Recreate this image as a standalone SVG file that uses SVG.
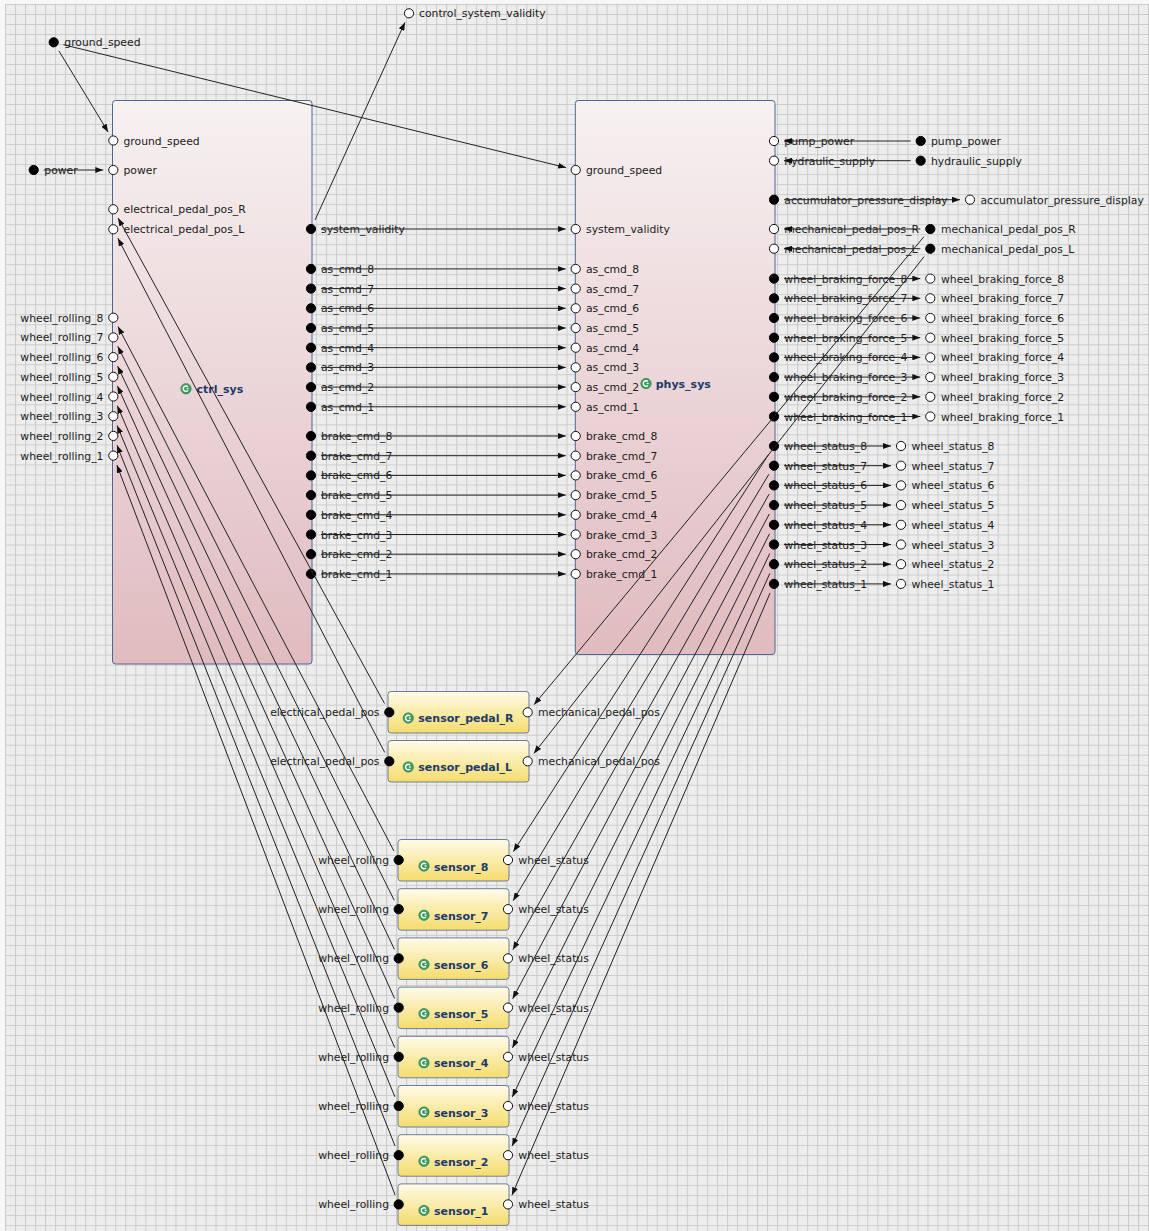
<svg xmlns="http://www.w3.org/2000/svg" width="1149" height="1231" viewBox="0 0 1149 1231">
  <defs>
    <pattern id="grid" patternUnits="userSpaceOnUse" x="5" y="4" width="10.027" height="10.01">
      <rect width="10.027" height="10.01" fill="#ededed"/>
      <path d="M0.5 0 V10.01 M0 0.5 H10.027" stroke="#cbcbcb" stroke-width="1" fill="none"/>
    </pattern>
    <linearGradient id="pinkFill" x1="0" y1="0" x2="0" y2="1">
      <stop offset="0" stop-color="#f7f1f1"/>
      <stop offset="1" stop-color="#e0bbc0"/>
    </linearGradient>
    <linearGradient id="yellowFill" x1="0" y1="0" x2="0" y2="1">
      <stop offset="0" stop-color="#fffbe9"/>
      <stop offset="1" stop-color="#f5dc6c"/>
    </linearGradient>
    <marker id="arrow" markerUnits="userSpaceOnUse" markerWidth="8" markerHeight="6" refX="8" refY="3" orient="auto">
      <path d="M0,0 L8,3 L0,6 z" fill="#111"/>
    </marker>
    <g id="icon">
      <circle r="5.2" fill="#3f9d62" stroke="#2c7a48" stroke-width="0.6"/>
      <path d="M1.9,-1.9 A2.7,2.7 0 1 0 1.9,1.9" fill="none" stroke="#fff" stroke-width="1.4"/>
      <path d="M0.6,0 H2.6" stroke="#fff" stroke-width="1.2"/>
    </g>
  </defs>
  <style>
    .lbl { font-family: "DejaVu Sans", "Liberation Sans", sans-serif; font-size: 10.8px; fill: #1b1b1b; }
    .end { text-anchor: end; }
    .title { font-family: "DejaVu Sans", "Liberation Sans", sans-serif; font-size: 11px; font-weight: bold; fill: #1d3a6b; }
    .sys { fill: url(#pinkFill); stroke: #4d6790; stroke-width: 1; }
    .sen { fill: url(#yellowFill); stroke: #6b7f9b; stroke-width: 1; }
    .in { fill: #fff; stroke: #111; stroke-width: 1; }
    .out { fill: #000; stroke: #000; stroke-width: 1; }
    .wire { stroke: #222; stroke-width: 1; fill: none; }
    .arr { marker-end: url(#arrow); }
  </style>

  <!-- canvas -->
  <rect width="1149" height="1231" fill="#f7f7f7"/>
  <rect x="5" y="4" width="1144" height="1227" fill="url(#grid)"/>

  <!-- top-level inputs / outputs -->
  <g id="ext_ground_speed">
    <circle class="out" cx="53.7" cy="42.3" r="4.6"/>
    <text class="lbl" x="64.3" y="46.3">ground_speed</text>
  </g>
  <g id="ext_power">
    <circle class="out" cx="33.7" cy="170" r="4.6"/>
    <text class="lbl" x="44.3" y="174">power</text>
  </g>
  <g id="ext_control_system_validity">
    <circle class="in" cx="409" cy="13.3" r="4.6"/>
    <text class="lbl" x="419" y="17.3">control_system_validity</text>
  </g>
  <g id="ext_pump_power">
    <circle class="out" cx="920.7" cy="141" r="4.6"/>
    <text class="lbl" x="931" y="145">pump_power</text>
  </g>
  <g id="ext_hydraulic_supply">
    <circle class="out" cx="920.7" cy="160.7" r="4.6"/>
    <text class="lbl" x="931" y="164.7">hydraulic_supply</text>
  </g>
  <g id="ext_accumulator_pressure_display">
    <circle class="in" cx="970" cy="199.7" r="4.6"/>
    <text class="lbl" x="980.5" y="203.7">accumulator_pressure_display</text>
  </g>
  <g id="ext_mechanical_pedal_pos_R">
    <circle class="out" cx="930.3" cy="229" r="4.6"/>
    <text class="lbl" x="941" y="233">mechanical_pedal_pos_R</text>
  </g>
  <g id="ext_mechanical_pedal_pos_L">
    <circle class="out" cx="930.3" cy="248.7" r="4.6"/>
    <text class="lbl" x="941" y="252.7">mechanical_pedal_pos_L</text>
  </g>
  <g id="ext_wheel_braking_force">
    <circle class="in" cx="930.3" cy="278.6" r="4.6"/><text class="lbl" x="941" y="282.6">wheel_braking_force_8</text>
    <circle class="in" cx="930.3" cy="298.3" r="4.6"/><text class="lbl" x="941" y="302.3">wheel_braking_force_7</text>
    <circle class="in" cx="930.3" cy="318" r="4.6"/><text class="lbl" x="941" y="322">wheel_braking_force_6</text>
    <circle class="in" cx="930.3" cy="337.7" r="4.6"/><text class="lbl" x="941" y="341.7">wheel_braking_force_5</text>
    <circle class="in" cx="930.3" cy="357.4" r="4.6"/><text class="lbl" x="941" y="361.4">wheel_braking_force_4</text>
    <circle class="in" cx="930.3" cy="377.1" r="4.6"/><text class="lbl" x="941" y="381.1">wheel_braking_force_3</text>
    <circle class="in" cx="930.3" cy="396.8" r="4.6"/><text class="lbl" x="941" y="400.8">wheel_braking_force_2</text>
    <circle class="in" cx="930.3" cy="416.5" r="4.6"/><text class="lbl" x="941" y="420.5">wheel_braking_force_1</text>
  </g>
  <g id="ext_wheel_status">
    <circle class="in" cx="901" cy="446" r="4.6"/><text class="lbl" x="911.5" y="450">wheel_status_8</text>
    <circle class="in" cx="901" cy="465.7" r="4.6"/><text class="lbl" x="911.5" y="469.7">wheel_status_7</text>
    <circle class="in" cx="901" cy="485.4" r="4.6"/><text class="lbl" x="911.5" y="489.4">wheel_status_6</text>
    <circle class="in" cx="901" cy="505.1" r="4.6"/><text class="lbl" x="911.5" y="509.1">wheel_status_5</text>
    <circle class="in" cx="901" cy="524.8" r="4.6"/><text class="lbl" x="911.5" y="528.8">wheel_status_4</text>
    <circle class="in" cx="901" cy="544.5" r="4.6"/><text class="lbl" x="911.5" y="548.5">wheel_status_3</text>
    <circle class="in" cx="901" cy="564.2" r="4.6"/><text class="lbl" x="911.5" y="568.2">wheel_status_2</text>
    <circle class="in" cx="901" cy="583.9" r="4.6"/><text class="lbl" x="911.5" y="587.9">wheel_status_1</text>
  </g>

  <!-- control system block -->
  <g id="ctrl_sys">
    <rect class="sys" x="112.5" y="100.5" width="199.5" height="563.5" rx="3"/>
    <use href="#icon" x="186" y="388.7"/>
    <text class="title" x="196.5" y="393">ctrl_sys</text>
    <circle class="in" cx="113.3" cy="140.5" r="4.6"/><text class="lbl" x="123.5" y="144.5">ground_speed</text>
    <circle class="in" cx="113.3" cy="170" r="4.6"/><text class="lbl" x="123.5" y="174">power</text>
    <circle class="in" cx="113.3" cy="209.3" r="4.6"/><text class="lbl" x="123.5" y="213.3">electrical_pedal_pos_R</text>
    <circle class="in" cx="113.3" cy="229.3" r="4.6"/><text class="lbl" x="123.5" y="233.3">electrical_pedal_pos_L</text>
    <circle class="in" cx="113.3" cy="317.7" r="4.6"/><text class="lbl end" x="103.5" y="321.7">wheel_rolling_8</text>
    <circle class="in" cx="113.3" cy="337.4" r="4.6"/><text class="lbl end" x="103.5" y="341.4">wheel_rolling_7</text>
    <circle class="in" cx="113.3" cy="357.1" r="4.6"/><text class="lbl end" x="103.5" y="361.1">wheel_rolling_6</text>
    <circle class="in" cx="113.3" cy="376.8" r="4.6"/><text class="lbl end" x="103.5" y="380.8">wheel_rolling_5</text>
    <circle class="in" cx="113.3" cy="396.5" r="4.6"/><text class="lbl end" x="103.5" y="400.5">wheel_rolling_4</text>
    <circle class="in" cx="113.3" cy="416.2" r="4.6"/><text class="lbl end" x="103.5" y="420.2">wheel_rolling_3</text>
    <circle class="in" cx="113.3" cy="435.9" r="4.6"/><text class="lbl end" x="103.5" y="439.9">wheel_rolling_2</text>
    <circle class="in" cx="113.3" cy="455.6" r="4.6"/><text class="lbl end" x="103.5" y="459.6">wheel_rolling_1</text>
    <circle class="out" cx="311" cy="229" r="4.6"/><text class="lbl" x="321" y="233">system_validity</text>
    <circle class="out" cx="311" cy="268.9" r="4.6"/><text class="lbl" x="321" y="272.9">as_cmd_8</text>
    <circle class="out" cx="311" cy="288.6" r="4.6"/><text class="lbl" x="321" y="292.6">as_cmd_7</text>
    <circle class="out" cx="311" cy="308.3" r="4.6"/><text class="lbl" x="321" y="312.3">as_cmd_6</text>
    <circle class="out" cx="311" cy="328" r="4.6"/><text class="lbl" x="321" y="332">as_cmd_5</text>
    <circle class="out" cx="311" cy="347.7" r="4.6"/><text class="lbl" x="321" y="351.7">as_cmd_4</text>
    <circle class="out" cx="311" cy="367.4" r="4.6"/><text class="lbl" x="321" y="371.4">as_cmd_3</text>
    <circle class="out" cx="311" cy="387.1" r="4.6"/><text class="lbl" x="321" y="391.1">as_cmd_2</text>
    <circle class="out" cx="311" cy="406.8" r="4.6"/><text class="lbl" x="321" y="410.8">as_cmd_1</text>
    <circle class="out" cx="311" cy="436" r="4.6"/><text class="lbl" x="321" y="440">brake_cmd_8</text>
    <circle class="out" cx="311" cy="455.7" r="4.6"/><text class="lbl" x="321" y="459.7">brake_cmd_7</text>
    <circle class="out" cx="311" cy="475.4" r="4.6"/><text class="lbl" x="321" y="479.4">brake_cmd_6</text>
    <circle class="out" cx="311" cy="495.1" r="4.6"/><text class="lbl" x="321" y="499.1">brake_cmd_5</text>
    <circle class="out" cx="311" cy="514.8" r="4.6"/><text class="lbl" x="321" y="518.8">brake_cmd_4</text>
    <circle class="out" cx="311" cy="534.5" r="4.6"/><text class="lbl" x="321" y="538.5">brake_cmd_3</text>
    <circle class="out" cx="311" cy="554.2" r="4.6"/><text class="lbl" x="321" y="558.2">brake_cmd_2</text>
    <circle class="out" cx="311" cy="573.9" r="4.6"/><text class="lbl" x="321" y="577.9">brake_cmd_1</text>
  </g>

  <!-- physical system block -->
  <g id="phys_sys">
    <rect class="sys" x="575.3" y="100.5" width="199.7" height="554" rx="3"/>
    <use href="#icon" x="646" y="383.5"/>
    <text class="title" x="655.7" y="388">phys_sys</text>
    <circle class="in" cx="575.7" cy="170" r="4.6"/><text class="lbl" x="586" y="174">ground_speed</text>
    <circle class="in" cx="575.7" cy="229" r="4.6"/><text class="lbl" x="586" y="233">system_validity</text>
    <circle class="in" cx="575.7" cy="268.9" r="4.6"/><text class="lbl" x="586" y="272.9">as_cmd_8</text>
    <circle class="in" cx="575.7" cy="288.6" r="4.6"/><text class="lbl" x="586" y="292.6">as_cmd_7</text>
    <circle class="in" cx="575.7" cy="308.3" r="4.6"/><text class="lbl" x="586" y="312.3">as_cmd_6</text>
    <circle class="in" cx="575.7" cy="328" r="4.6"/><text class="lbl" x="586" y="332">as_cmd_5</text>
    <circle class="in" cx="575.7" cy="347.7" r="4.6"/><text class="lbl" x="586" y="351.7">as_cmd_4</text>
    <circle class="in" cx="575.7" cy="367.4" r="4.6"/><text class="lbl" x="586" y="371.4">as_cmd_3</text>
    <circle class="in" cx="575.7" cy="387.1" r="4.6"/><text class="lbl" x="586" y="391.1">as_cmd_2</text>
    <circle class="in" cx="575.7" cy="406.8" r="4.6"/><text class="lbl" x="586" y="410.8">as_cmd_1</text>
    <circle class="in" cx="575.7" cy="436" r="4.6"/><text class="lbl" x="586" y="440">brake_cmd_8</text>
    <circle class="in" cx="575.7" cy="455.7" r="4.6"/><text class="lbl" x="586" y="459.7">brake_cmd_7</text>
    <circle class="in" cx="575.7" cy="475.4" r="4.6"/><text class="lbl" x="586" y="479.4">brake_cmd_6</text>
    <circle class="in" cx="575.7" cy="495.1" r="4.6"/><text class="lbl" x="586" y="499.1">brake_cmd_5</text>
    <circle class="in" cx="575.7" cy="514.8" r="4.6"/><text class="lbl" x="586" y="518.8">brake_cmd_4</text>
    <circle class="in" cx="575.7" cy="534.5" r="4.6"/><text class="lbl" x="586" y="538.5">brake_cmd_3</text>
    <circle class="in" cx="575.7" cy="554.2" r="4.6"/><text class="lbl" x="586" y="558.2">brake_cmd_2</text>
    <circle class="in" cx="575.7" cy="573.9" r="4.6"/><text class="lbl" x="586" y="577.9">brake_cmd_1</text>
    <circle class="in" cx="774" cy="141" r="4.6"/><text class="lbl" x="784.3" y="145">pump_power</text>
    <circle class="in" cx="774" cy="160.7" r="4.6"/><text class="lbl" x="784.3" y="164.7">hydraulic_supply</text>
    <circle class="out" cx="774" cy="199.7" r="4.6"/><text class="lbl" x="784.3" y="203.7">accumulator_pressure_display</text>
    <circle class="in" cx="774" cy="229" r="4.6"/><text class="lbl" x="784.3" y="233">mechanical_pedal_pos_R</text>
    <circle class="in" cx="774" cy="248.7" r="4.6"/><text class="lbl" x="784.3" y="252.7">mechanical_pedal_pos_L</text>
    <circle class="out" cx="774" cy="278.6" r="4.6"/><text class="lbl" x="784.3" y="282.6">wheel_braking_force_8</text>
    <circle class="out" cx="774" cy="298.3" r="4.6"/><text class="lbl" x="784.3" y="302.3">wheel_braking_force_7</text>
    <circle class="out" cx="774" cy="318" r="4.6"/><text class="lbl" x="784.3" y="322">wheel_braking_force_6</text>
    <circle class="out" cx="774" cy="337.7" r="4.6"/><text class="lbl" x="784.3" y="341.7">wheel_braking_force_5</text>
    <circle class="out" cx="774" cy="357.4" r="4.6"/><text class="lbl" x="784.3" y="361.4">wheel_braking_force_4</text>
    <circle class="out" cx="774" cy="377.1" r="4.6"/><text class="lbl" x="784.3" y="381.1">wheel_braking_force_3</text>
    <circle class="out" cx="774" cy="396.8" r="4.6"/><text class="lbl" x="784.3" y="400.8">wheel_braking_force_2</text>
    <circle class="out" cx="774" cy="416.5" r="4.6"/><text class="lbl" x="784.3" y="420.5">wheel_braking_force_1</text>
    <circle class="out" cx="774" cy="446" r="4.6"/><text class="lbl" x="784.3" y="450">wheel_status_8</text>
    <circle class="out" cx="774" cy="465.7" r="4.6"/><text class="lbl" x="784.3" y="469.7">wheel_status_7</text>
    <circle class="out" cx="774" cy="485.4" r="4.6"/><text class="lbl" x="784.3" y="489.4">wheel_status_6</text>
    <circle class="out" cx="774" cy="505.1" r="4.6"/><text class="lbl" x="784.3" y="509.1">wheel_status_5</text>
    <circle class="out" cx="774" cy="524.8" r="4.6"/><text class="lbl" x="784.3" y="528.8">wheel_status_4</text>
    <circle class="out" cx="774" cy="544.5" r="4.6"/><text class="lbl" x="784.3" y="548.5">wheel_status_3</text>
    <circle class="out" cx="774" cy="564.2" r="4.6"/><text class="lbl" x="784.3" y="568.2">wheel_status_2</text>
    <circle class="out" cx="774" cy="583.9" r="4.6"/><text class="lbl" x="784.3" y="587.9">wheel_status_1</text>
  </g>

  <!-- pedal sensors -->
  <g id="sensor_pedal_R">
    <rect class="sen" x="388" y="691.5" width="141" height="41.5" rx="3"/>
    <use href="#icon" x="408.3" y="718"/>
    <text class="title" x="418.3" y="722.3">sensor_pedal_R</text>
    <circle class="out" cx="389.3" cy="712.3" r="4.6"/><text class="lbl end" x="379.5" y="716.3">electrical_pedal_pos</text>
    <circle class="in" cx="527.7" cy="712.3" r="4.6"/><text class="lbl" x="538" y="716.3">mechanical_pedal_pos</text>
  </g>
  <g id="sensor_pedal_L">
    <rect class="sen" x="388" y="740.5" width="141" height="41.5" rx="3"/>
    <use href="#icon" x="408.3" y="767"/>
    <text class="title" x="418.3" y="771.3">sensor_pedal_L</text>
    <circle class="out" cx="389.3" cy="761.3" r="4.6"/><text class="lbl end" x="379.5" y="765.3">electrical_pedal_pos</text>
    <circle class="in" cx="527.7" cy="761.3" r="4.6"/><text class="lbl" x="538" y="765.3">mechanical_pedal_pos</text>
  </g>

  <!-- wheel sensors -->
  <g id="sensor_8">
    <rect class="sen" x="398" y="839.5" width="111" height="41.5" rx="3"/>
    <use href="#icon" x="424" y="866"/>
    <text class="title" x="434" y="870.5">sensor_8</text>
    <circle class="out" cx="398.7" cy="860" r="4.6"/><text class="lbl end" x="389" y="864">wheel_rolling</text>
    <circle class="in" cx="508" cy="860" r="4.6"/><text class="lbl" x="518.3" y="864">wheel_status</text>
  </g>
  <g id="sensor_7">
    <rect class="sen" x="398" y="888.7" width="111" height="41.5" rx="3"/>
    <use href="#icon" x="424" y="915.2"/>
    <text class="title" x="434" y="919.7">sensor_7</text>
    <circle class="out" cx="398.7" cy="909.2" r="4.6"/><text class="lbl end" x="389" y="913.2">wheel_rolling</text>
    <circle class="in" cx="508" cy="909.2" r="4.6"/><text class="lbl" x="518.3" y="913.2">wheel_status</text>
  </g>
  <g id="sensor_6">
    <rect class="sen" x="398" y="937.9" width="111" height="41.5" rx="3"/>
    <use href="#icon" x="424" y="964.4"/>
    <text class="title" x="434" y="968.9">sensor_6</text>
    <circle class="out" cx="398.7" cy="958.4" r="4.6"/><text class="lbl end" x="389" y="962.4">wheel_rolling</text>
    <circle class="in" cx="508" cy="958.4" r="4.6"/><text class="lbl" x="518.3" y="962.4">wheel_status</text>
  </g>
  <g id="sensor_5">
    <rect class="sen" x="398" y="987.1" width="111" height="41.5" rx="3"/>
    <use href="#icon" x="424" y="1013.6"/>
    <text class="title" x="434" y="1018.1">sensor_5</text>
    <circle class="out" cx="398.7" cy="1007.6" r="4.6"/><text class="lbl end" x="389" y="1011.6">wheel_rolling</text>
    <circle class="in" cx="508" cy="1007.6" r="4.6"/><text class="lbl" x="518.3" y="1011.6">wheel_status</text>
  </g>
  <g id="sensor_4">
    <rect class="sen" x="398" y="1036.3" width="111" height="41.5" rx="3"/>
    <use href="#icon" x="424" y="1062.8"/>
    <text class="title" x="434" y="1067.3">sensor_4</text>
    <circle class="out" cx="398.7" cy="1056.8" r="4.6"/><text class="lbl end" x="389" y="1060.8">wheel_rolling</text>
    <circle class="in" cx="508" cy="1056.8" r="4.6"/><text class="lbl" x="518.3" y="1060.8">wheel_status</text>
  </g>
  <g id="sensor_3">
    <rect class="sen" x="398" y="1085.5" width="111" height="41.5" rx="3"/>
    <use href="#icon" x="424" y="1112"/>
    <text class="title" x="434" y="1116.5">sensor_3</text>
    <circle class="out" cx="398.7" cy="1106" r="4.6"/><text class="lbl end" x="389" y="1110">wheel_rolling</text>
    <circle class="in" cx="508" cy="1106" r="4.6"/><text class="lbl" x="518.3" y="1110">wheel_status</text>
  </g>
  <g id="sensor_2">
    <rect class="sen" x="398" y="1134.7" width="111" height="41.5" rx="3"/>
    <use href="#icon" x="424" y="1161.2"/>
    <text class="title" x="434" y="1165.7">sensor_2</text>
    <circle class="out" cx="398.7" cy="1155.2" r="4.6"/><text class="lbl end" x="389" y="1159.2">wheel_rolling</text>
    <circle class="in" cx="508" cy="1155.2" r="4.6"/><text class="lbl" x="518.3" y="1159.2">wheel_status</text>
  </g>
  <g id="sensor_1">
    <rect class="sen" x="398" y="1183.9" width="111" height="41.5" rx="3"/>
    <use href="#icon" x="424" y="1210.4"/>
    <text class="title" x="434" y="1214.9">sensor_1</text>
    <circle class="out" cx="398.7" cy="1204.4" r="4.6"/><text class="lbl end" x="389" y="1208.4">wheel_rolling</text>
    <circle class="in" cx="508" cy="1204.4" r="4.6"/><text class="lbl" x="518.3" y="1208.4">wheel_status</text>
  </g>

  <!-- connections -->
  <g id="connectors" class="wire">
    <!-- top-level inputs into the systems -->
    <line class="arr" x1="58.9" y1="50.85" x2="108.1" y2="131.95"/>
    <line class="arr" x1="63.4" y1="44.7" x2="566" y2="167.6"/>
    <line class="arr" x1="43.7" y1="170" x2="103.3" y2="170"/>
    <!-- validity -->
    <line class="arr" x1="315.1" y1="219.9" x2="404.9" y2="22.4"/>
    <line class="arr" x1="321" y1="229" x2="565.7" y2="229"/>
    <!-- actuator commands -->
    <line class="arr" x1="321" y1="268.9" x2="565.7" y2="268.9"/>
    <line class="arr" x1="321" y1="288.6" x2="565.7" y2="288.6"/>
    <line class="arr" x1="321" y1="308.3" x2="565.7" y2="308.3"/>
    <line class="arr" x1="321" y1="328" x2="565.7" y2="328"/>
    <line class="arr" x1="321" y1="347.7" x2="565.7" y2="347.7"/>
    <line class="arr" x1="321" y1="367.4" x2="565.7" y2="367.4"/>
    <line class="arr" x1="321" y1="387.1" x2="565.7" y2="387.1"/>
    <line class="arr" x1="321" y1="406.8" x2="565.7" y2="406.8"/>
    <line class="arr" x1="321" y1="436" x2="565.7" y2="436"/>
    <line class="arr" x1="321" y1="455.7" x2="565.7" y2="455.7"/>
    <line class="arr" x1="321" y1="475.4" x2="565.7" y2="475.4"/>
    <line class="arr" x1="321" y1="495.1" x2="565.7" y2="495.1"/>
    <line class="arr" x1="321" y1="514.8" x2="565.7" y2="514.8"/>
    <line class="arr" x1="321" y1="534.5" x2="565.7" y2="534.5"/>
    <line class="arr" x1="321" y1="554.2" x2="565.7" y2="554.2"/>
    <line class="arr" x1="321" y1="573.9" x2="565.7" y2="573.9"/>
    <!-- supplies into the physical system -->
    <line class="arr" x1="910.7" y1="141" x2="784" y2="141"/>
    <line class="arr" x1="910.7" y1="160.7" x2="784" y2="160.7"/>
    <line class="arr" x1="784" y1="199.7" x2="960" y2="199.7"/>
    <line class="arr" x1="920.3" y1="229" x2="784" y2="229"/>
    <line class="arr" x1="920.3" y1="248.7" x2="784" y2="248.7"/>
    <!-- pedal positions to the pedal sensors -->
    <line class="arr" x1="923.9" y1="236.68" x2="534.1" y2="704.62"/>
    <line class="arr" x1="924.12" y1="256.56" x2="533.88" y2="753.44"/>
    <!-- braking forces out -->
    <line class="arr" x1="784" y1="278.6" x2="920.3" y2="278.6"/>
    <line class="arr" x1="784" y1="298.3" x2="920.3" y2="298.3"/>
    <line class="arr" x1="784" y1="318" x2="920.3" y2="318"/>
    <line class="arr" x1="784" y1="337.7" x2="920.3" y2="337.7"/>
    <line class="arr" x1="784" y1="357.4" x2="920.3" y2="357.4"/>
    <line class="arr" x1="784" y1="377.1" x2="920.3" y2="377.1"/>
    <line class="arr" x1="784" y1="396.8" x2="920.3" y2="396.8"/>
    <line class="arr" x1="784" y1="416.5" x2="920.3" y2="416.5"/>
    <!-- wheel status out -->
    <line class="arr" x1="784" y1="446" x2="891" y2="446"/>
    <line class="arr" x1="784" y1="465.7" x2="891" y2="465.7"/>
    <line class="arr" x1="784" y1="485.4" x2="891" y2="485.4"/>
    <line class="arr" x1="784" y1="505.1" x2="891" y2="505.1"/>
    <line class="arr" x1="784" y1="524.8" x2="891" y2="524.8"/>
    <line class="arr" x1="784" y1="544.5" x2="891" y2="544.5"/>
    <line class="arr" x1="784" y1="564.2" x2="891" y2="564.2"/>
    <line class="arr" x1="784" y1="583.9" x2="891" y2="583.9"/>
    <!-- wheel status to the wheel sensors -->
    <line class="arr" x1="768.6" y1="454.41" x2="513.4" y2="851.59"/>
    <line class="arr" x1="768.86" y1="474.28" x2="513.14" y2="900.63"/>
    <line class="arr" x1="769.1" y1="494.12" x2="512.9" y2="949.68"/>
    <line class="arr" x1="769.32" y1="513.94" x2="512.68" y2="998.76"/>
    <line class="arr" x1="769.53" y1="533.74" x2="512.47" y2="1047.86"/>
    <line class="arr" x1="769.72" y1="553.54" x2="512.28" y2="1096.96"/>
    <line class="arr" x1="769.9" y1="573.32" x2="512.1" y2="1146.08"/>
    <line class="arr" x1="770.06" y1="593.09" x2="511.94" y2="1195.21"/>
    <!-- electrical pedal positions back to control -->
    <line class="arr" x1="384.5" y1="703.5" x2="118.1" y2="218.1"/>
    <line class="arr" x1="384.7" y1="752.4" x2="117.9" y2="238.2"/>
    <!-- wheel rolling back to control -->
    <line class="arr" x1="394.04" y1="851.15" x2="117.96" y2="326.55"/>
    <line class="arr" x1="394.23" y1="900.25" x2="117.77" y2="346.35"/>
    <line class="arr" x1="394.41" y1="949.37" x2="117.59" y2="366.13"/>
    <line class="arr" x1="394.58" y1="998.49" x2="117.42" y2="385.91"/>
    <line class="arr" x1="394.73" y1="1047.62" x2="117.27" y2="405.68"/>
    <line class="arr" x1="394.88" y1="1096.76" x2="117.12" y2="425.44"/>
    <line class="arr" x1="395.01" y1="1145.9" x2="116.99" y2="445.2"/>
    <line class="arr" x1="395.14" y1="1195.06" x2="116.86" y2="464.95"/>
  </g>
</svg>
